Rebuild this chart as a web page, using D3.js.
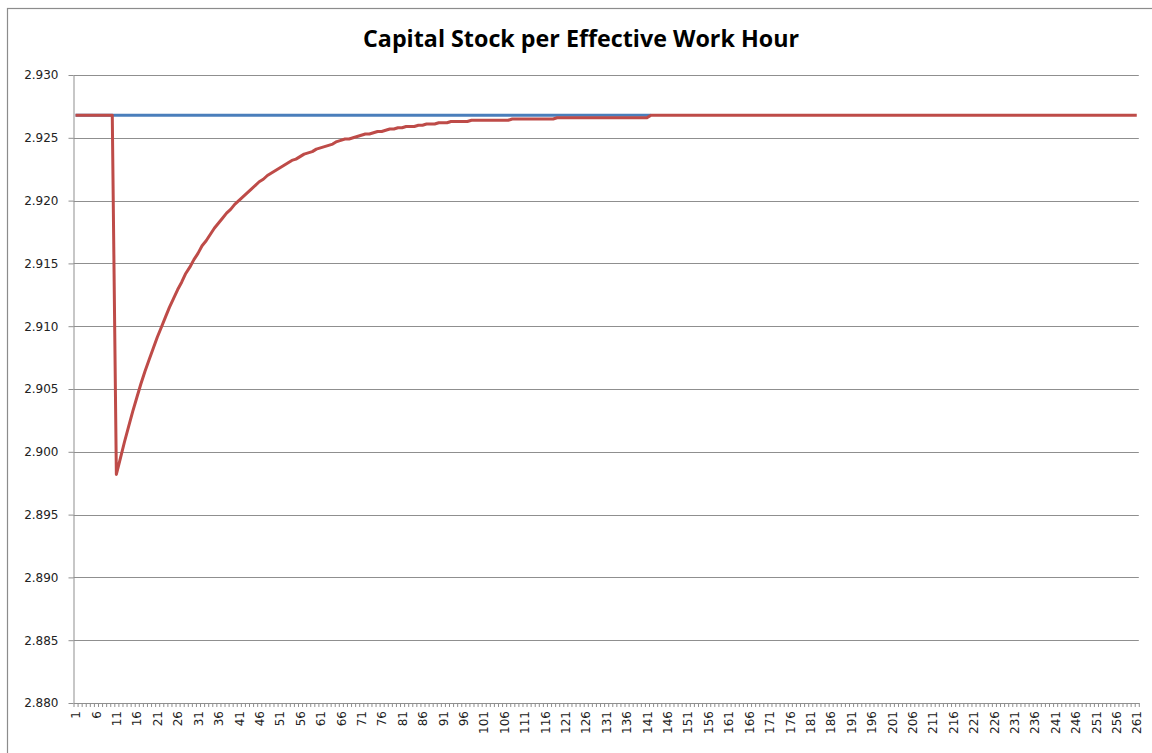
<!DOCTYPE html>
<html>
<head>
<meta charset="utf-8">
<script src="https://cdn.jsdelivr.net/npm/d3@7"></script>
<style>
  body { margin: 0; background: #fff; }
  svg { display: block; }
</style>
</head>
<body>
<svg id="chart" width="1152" height="753"></svg>
<script>
/**
 * Capital Stock per Effective Work Hour
 */

var categories = d3.range(1, 262);
var xLabels = d3.range(1, 262, 5);
var yTicks = [2.880, 2.885, 2.890, 2.895, 2.900, 2.905, 2.910, 2.915, 2.920, 2.925, 2.930];

// baseline path (periods 1-142)
var baseline = [
  2.9268, 2.9268, 2.9268, 2.9268, 2.9268, 2.9268, 2.9268, 2.9268, 2.9268, 2.9268,
  2.9268, 2.9268, 2.9268, 2.9268, 2.9268, 2.9268, 2.9268, 2.9268, 2.9268, 2.9268,
  2.9268, 2.9268, 2.9268, 2.9268, 2.9268, 2.9268, 2.9268, 2.9268, 2.9268, 2.9268,
  2.9268, 2.9268, 2.9268, 2.9268, 2.9268, 2.9268, 2.9268, 2.9268, 2.9268, 2.9268,
  2.9268, 2.9268, 2.9268, 2.9268, 2.9268, 2.9268, 2.9268, 2.9268, 2.9268, 2.9268,
  2.9268, 2.9268, 2.9268, 2.9268, 2.9268, 2.9268, 2.9268, 2.9268, 2.9268, 2.9268,
  2.9268, 2.9268, 2.9268, 2.9268, 2.9268, 2.9268, 2.9268, 2.9268, 2.9268, 2.9268,
  2.9268, 2.9268, 2.9268, 2.9268, 2.9268, 2.9268, 2.9268, 2.9268, 2.9268, 2.9268,
  2.9268, 2.9268, 2.9268, 2.9268, 2.9268, 2.9268, 2.9268, 2.9268, 2.9268, 2.9268,
  2.9268, 2.9268, 2.9268, 2.9268, 2.9268, 2.9268, 2.9268, 2.9268, 2.9268, 2.9268,
  2.9268, 2.9268, 2.9268, 2.9268, 2.9268, 2.9268, 2.9268, 2.9268, 2.9268, 2.9268,
  2.9268, 2.9268, 2.9268, 2.9268, 2.9268, 2.9268, 2.9268, 2.9268, 2.9268, 2.9268,
  2.9268, 2.9268, 2.9268, 2.9268, 2.9268, 2.9268, 2.9268, 2.9268, 2.9268, 2.9268,
  2.9268, 2.9268, 2.9268, 2.9268, 2.9268, 2.9268, 2.9268, 2.9268, 2.9268, 2.9268,
  2.9268, 2.9268
];

// shocked path (periods 1-261)
var shocked = [
  2.9268, 2.9268, 2.9268, 2.9268, 2.9268, 2.9268, 2.9268, 2.9268, 2.9268, 2.9268,
  2.8982, 2.8995, 2.9008, 2.9020, 2.9032, 2.9043, 2.9054, 2.9064, 2.9073, 2.9082,
  2.9091, 2.9099, 2.9107, 2.9115, 2.9122, 2.9129, 2.9135, 2.9142, 2.9147, 2.9153,
  2.9158, 2.9164, 2.9168, 2.9173, 2.9178, 2.9182, 2.9186, 2.9190, 2.9193, 2.9197,
  2.9200, 2.9203, 2.9206, 2.9209, 2.9212, 2.9215, 2.9217, 2.9220, 2.9222, 2.9224,
  2.9226, 2.9228, 2.9230, 2.9232, 2.9233, 2.9235, 2.9237, 2.9238, 2.9239, 2.9241,
  2.9242, 2.9243, 2.9244, 2.9245, 2.9247, 2.9248, 2.9249, 2.9249, 2.9250, 2.9251,
  2.9252, 2.9253, 2.9253, 2.9254, 2.9255, 2.9255, 2.9256, 2.9257, 2.9257, 2.9258,
  2.9258, 2.9259, 2.9259, 2.9259, 2.9260, 2.9260, 2.9261, 2.9261, 2.9261, 2.9262,
  2.9262, 2.9262, 2.9263, 2.9263, 2.9263, 2.9263, 2.9263, 2.9264, 2.9264, 2.9264,
  2.9264, 2.9264, 2.9264, 2.9264, 2.9264, 2.9264, 2.9264, 2.9265, 2.9265, 2.9265,
  2.9265, 2.9265, 2.9265, 2.9265, 2.9265, 2.9265, 2.9265, 2.9265, 2.9266, 2.9266,
  2.9266, 2.9266, 2.9266, 2.9266, 2.9266, 2.9266, 2.9266, 2.9266, 2.9266, 2.9266,
  2.9266, 2.9266, 2.9266, 2.9266, 2.9266, 2.9266, 2.9266, 2.9266, 2.9266, 2.9266,
  2.9266, 2.9268, 2.9268, 2.9268, 2.9268, 2.9268, 2.9268, 2.9268, 2.9268, 2.9268,
  2.9268, 2.9268, 2.9268, 2.9268, 2.9268, 2.9268, 2.9268, 2.9268, 2.9268, 2.9268,
  2.9268, 2.9268, 2.9268, 2.9268, 2.9268, 2.9268, 2.9268, 2.9268, 2.9268, 2.9268,
  2.9268, 2.9268, 2.9268, 2.9268, 2.9268, 2.9268, 2.9268, 2.9268, 2.9268, 2.9268,
  2.9268, 2.9268, 2.9268, 2.9268, 2.9268, 2.9268, 2.9268, 2.9268, 2.9268, 2.9268,
  2.9268, 2.9268, 2.9268, 2.9268, 2.9268, 2.9268, 2.9268, 2.9268, 2.9268, 2.9268,
  2.9268, 2.9268, 2.9268, 2.9268, 2.9268, 2.9268, 2.9268, 2.9268, 2.9268, 2.9268,
  2.9268, 2.9268, 2.9268, 2.9268, 2.9268, 2.9268, 2.9268, 2.9268, 2.9268, 2.9268,
  2.9268, 2.9268, 2.9268, 2.9268, 2.9268, 2.9268, 2.9268, 2.9268, 2.9268, 2.9268,
  2.9268, 2.9268, 2.9268, 2.9268, 2.9268, 2.9268, 2.9268, 2.9268, 2.9268, 2.9268,
  2.9268, 2.9268, 2.9268, 2.9268, 2.9268, 2.9268, 2.9268, 2.9268, 2.9268, 2.9268,
  2.9268, 2.9268, 2.9268, 2.9268, 2.9268, 2.9268, 2.9268, 2.9268, 2.9268, 2.9268,
  2.9268
];

var plotLeft = 73.5, plotRight = 1138.8, plotTop = 75, plotBottom = 703;

var svg = d3.select('#chart');

// chart area frame
svg.append('rect')
    .attr('x', 7.5).attr('y', 8.5)
    .attr('width', 1160).attr('height', 760)
    .attr('fill', '#fff')
    .attr('stroke', '#8c8c8c')
    .attr('stroke-width', 1.2);

svg.append('text')
    .attr('x', 581).attr('y', 47)
    .attr('text-anchor', 'middle')
    .attr('font-family', 'Open Sans, sans-serif')
    .attr('font-weight', 'bold')
    .attr('font-size', '23px')
    .attr('textLength', 436)
    .attr('lengthAdjust', 'spacingAndGlyphs')
    .attr('fill', '#000')
    .text('Capital Stock per Effective Work Hour');

var x = d3.scaleLinear().domain([0.5, 261.5]).range([plotLeft, plotRight]);
var y = d3.scaleLinear().domain([2.880, 2.930]).range([plotBottom, plotTop]);

// gridlines
svg.append('g')
  .selectAll('line')
    .data(yTicks.slice(1))
  .enter().append('line')
    .attr('x1', plotLeft).attr('x2', plotRight)
    .attr('y1', function(d) { return Math.round(y(d)) + 0.5; })
    .attr('y2', function(d) { return Math.round(y(d)) + 0.5; })
    .attr('stroke', '#8f8f8f')
    .attr('stroke-width', 1);

// y axis
var yAxis = svg.append('g')
    .attr('transform', 'translate(' + plotLeft + ',0)')
    .call(d3.axisLeft(y).tickValues(yTicks).tickFormat(d3.format('.3f'))
      .tickSize(5).tickSizeOuter(0).tickPadding(10));
yAxis.select('.domain').attr('stroke', '#8f8f8f');
yAxis.selectAll('.tick line').attr('stroke', '#8f8f8f');
yAxis.selectAll('text')
    .attr('font-family', 'DejaVu Sans, sans-serif')
    .attr('font-size', '12px')
    .attr('fill', '#222');

// x axis: tick marks between categories
var bounds = [0.5].concat(categories.map(function(c) { return c + 0.5; }));
var xTicks = svg.append('g')
    .attr('transform', 'translate(0,' + plotBottom + ')')
    .call(d3.axisBottom(x).tickValues(bounds).tickFormat('').tickSize(4).tickSizeOuter(0));
xTicks.select('.domain').attr('stroke', '#8f8f8f');
xTicks.selectAll('.tick line').attr('stroke', '#8f8f8f');

// x labels, rotated
var xAxis = svg.append('g')
    .attr('transform', 'translate(0,' + plotBottom + ')')
    .call(d3.axisBottom(x).tickValues(xLabels).tickSize(0).tickSizeOuter(0));
xAxis.select('.domain').remove();
xAxis.selectAll('text')
    .attr('font-family', 'DejaVu Sans, sans-serif')
    .attr('font-size', '12px')
    .attr('fill', '#222')
    .attr('text-anchor', 'end')
    .attr('dy', '0.35em')
    .attr('transform', 'translate(0,8) rotate(-90)')
    .attr('y', 0)
    .attr('x', 0);

var line = d3.line()
    .x(function(d, i) { return x(i + 1); })
    .y(function(d) { return y(d); });

svg.append('path')
    .datum(baseline)
    .attr('d', line)
    .attr('fill', 'none')
    .attr('stroke', '#4a7ebb')
    .attr('stroke-width', 3);

svg.append('path')
    .datum(shocked)
    .attr('d', line)
    .attr('fill', 'none')
    .attr('stroke', '#be4b48')
    .attr('stroke-width', 3)
    .attr('stroke-linejoin', 'round');
</script>
</body>
</html>
